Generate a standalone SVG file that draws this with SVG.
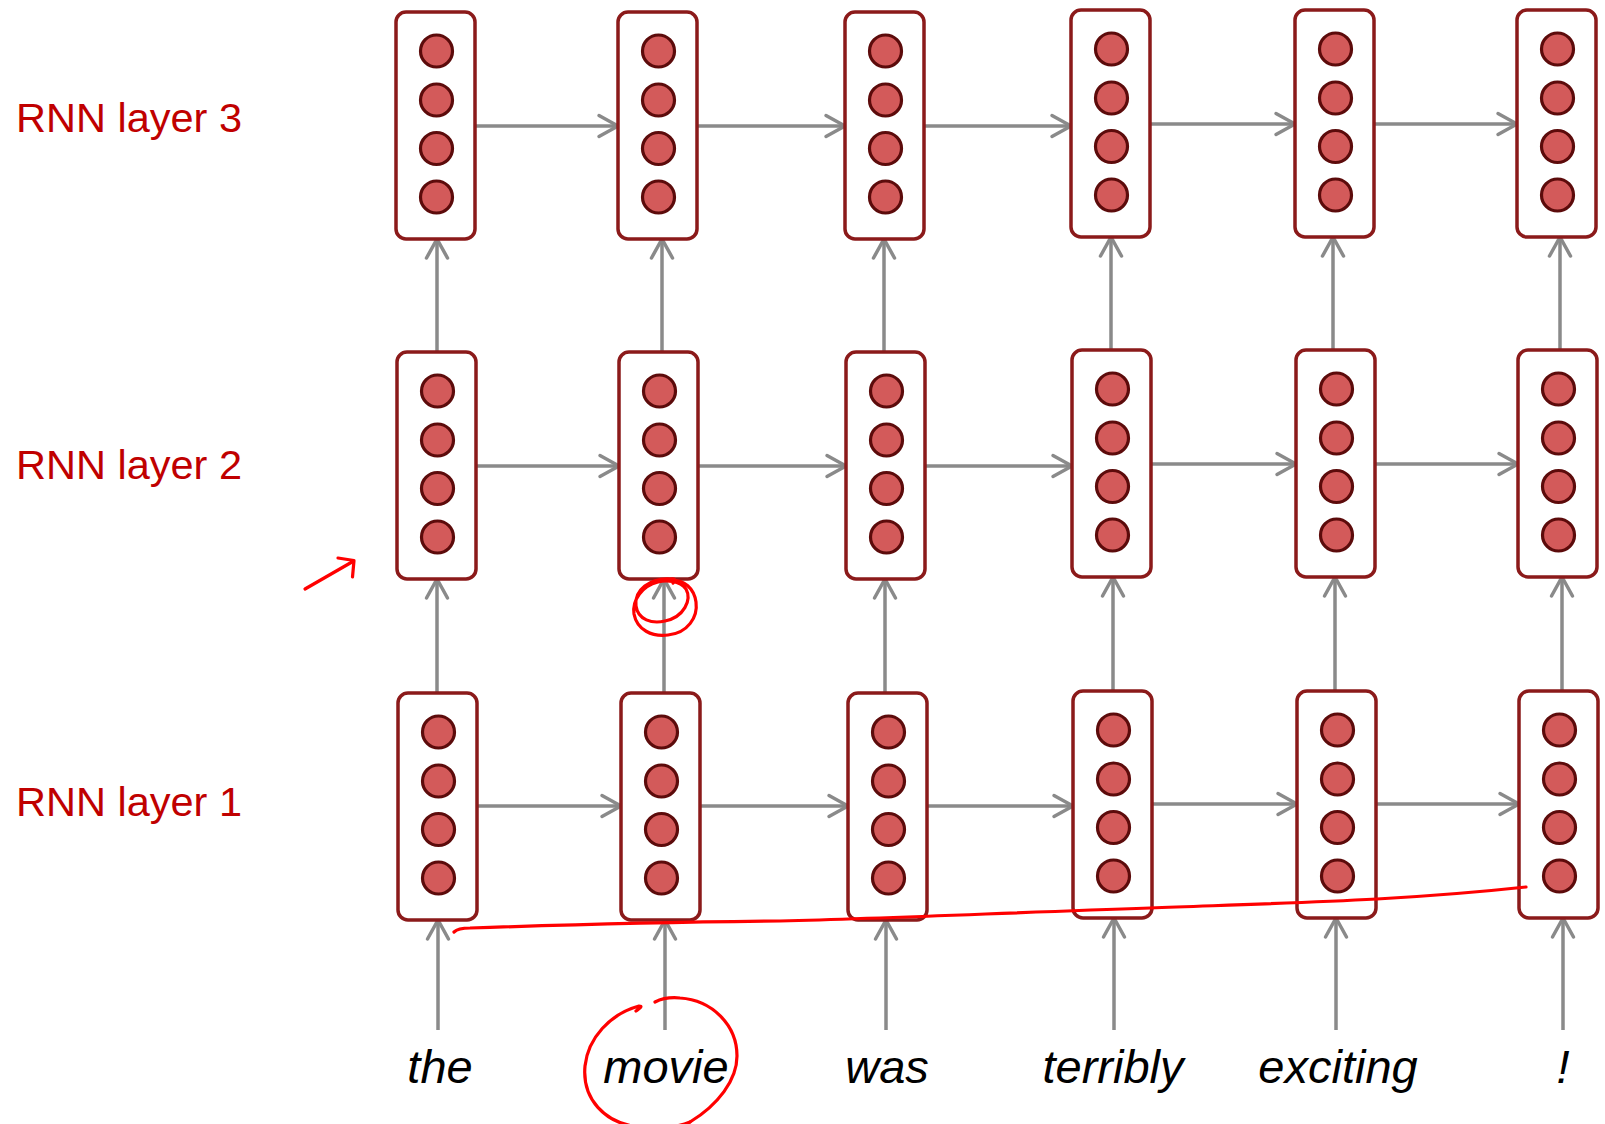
<svg xmlns="http://www.w3.org/2000/svg" width="1605" height="1124" viewBox="0 0 1605 1124">
  <style>
    .box { fill: #ffffff; stroke: #8b1a1a; stroke-width: 3.5; }
    .unit { fill: #d35a5a; stroke: #5c0b0b; stroke-width: 3.2; }
    .conn { stroke: #8a8a8a; stroke-width: 3.5; fill: none; marker-end: url(#head); }
    .layer { font-family: "Liberation Sans", Arial, sans-serif; font-size: 41.5px; fill: #c00000; }
    .word { font-family: "Liberation Sans", Arial, sans-serif; font-size: 47px; font-style: italic; fill: #000000; text-anchor: middle; }
    .ink { fill: none; stroke: #ff0000; stroke-width: 3.2; stroke-linecap: round; stroke-linejoin: round; }
  </style>
  <defs>
    <marker id="head" markerUnits="userSpaceOnUse" markerWidth="30" markerHeight="30" viewBox="-24 -15 28 30" refX="0" refY="0" orient="auto">
      <path d="M -19 -10.5 L 0 0 L -19 10.5" fill="none" stroke="#8a8a8a" stroke-width="3.5" stroke-linecap="round" stroke-linejoin="round"/>
    </marker>
    <!-- one hidden-state vector: rounded frame with four units -->
    <g id="cell">
      <rect class="box" x="0" y="0" width="79" height="227" rx="10" ry="10"/>
      <circle class="unit" cx="40.5" cy="39" r="16"/>
      <circle class="unit" cx="40.5" cy="88" r="16"/>
      <circle class="unit" cx="40.5" cy="136.5" r="16"/>
      <circle class="unit" cx="40.5" cy="185" r="16"/>
    </g>
  </defs>

  <rect x="0" y="0" width="1605" height="1124" fill="#ffffff"/>

  <!-- layer labels -->
  <text class="layer" x="16" y="132">RNN layer 3</text>
  <text class="layer" x="16" y="479">RNN layer 2</text>
  <text class="layer" x="16" y="816">RNN layer 1</text>

  <!-- connectors -->
  <g id="connectors">
    <!-- recurrent links, layer 3 -->
    <line class="conn" x1="475" y1="126" x2="618" y2="126"/>
    <line class="conn" x1="697" y1="126" x2="845" y2="126"/>
    <line class="conn" x1="924" y1="126" x2="1071" y2="126"/>
    <line class="conn" x1="1150" y1="124" x2="1295" y2="124"/>
    <line class="conn" x1="1374" y1="124" x2="1517" y2="124"/>
    <!-- recurrent links, layer 2 -->
    <line class="conn" x1="476" y1="466" x2="619" y2="466"/>
    <line class="conn" x1="698" y1="466" x2="846" y2="466"/>
    <line class="conn" x1="925" y1="466" x2="1072" y2="466"/>
    <line class="conn" x1="1151" y1="464" x2="1296" y2="464"/>
    <line class="conn" x1="1375" y1="464" x2="1518" y2="464"/>
    <!-- recurrent links, layer 1 -->
    <line class="conn" x1="477" y1="806" x2="621" y2="806"/>
    <line class="conn" x1="700" y1="806" x2="848" y2="806"/>
    <line class="conn" x1="927" y1="806" x2="1073" y2="806"/>
    <line class="conn" x1="1152" y1="804" x2="1297" y2="804"/>
    <line class="conn" x1="1376" y1="804" x2="1519" y2="804"/>
    <!-- layer 2 to layer 3 -->
    <line class="conn" x1="437" y1="352" x2="437" y2="239"/>
    <line class="conn" x1="662" y1="352" x2="662" y2="239"/>
    <line class="conn" x1="884" y1="352" x2="884" y2="239"/>
    <line class="conn" x1="1111" y1="350" x2="1111" y2="237"/>
    <line class="conn" x1="1333" y1="350" x2="1333" y2="237"/>
    <line class="conn" x1="1560" y1="350" x2="1560" y2="237"/>
    <!-- layer 1 to layer 2 -->
    <line class="conn" x1="437" y1="693" x2="437" y2="579"/>
    <line class="conn" x1="664" y1="693" x2="664" y2="579"/>
    <line class="conn" x1="885" y1="693" x2="885" y2="579"/>
    <line class="conn" x1="1113" y1="691" x2="1113" y2="577"/>
    <line class="conn" x1="1335" y1="691" x2="1335" y2="577"/>
    <line class="conn" x1="1562" y1="691" x2="1562" y2="577"/>
    <!-- inputs to layer 1 -->
    <line class="conn" x1="438" y1="1030" x2="438" y2="920"/>
    <line class="conn" x1="665" y1="1030" x2="665" y2="920"/>
    <line class="conn" x1="886" y1="1030" x2="886" y2="920"/>
    <line class="conn" x1="1114" y1="1030" x2="1114" y2="918"/>
    <line class="conn" x1="1336" y1="1030" x2="1336" y2="918"/>
    <line class="conn" x1="1563" y1="1030" x2="1563" y2="918"/>
  </g>

  <!-- layer 3 cells -->
  <g id="l3-t1"><use href="#cell" x="396" y="12"/></g>
  <g id="l3-t2"><use href="#cell" x="618" y="12"/></g>
  <g id="l3-t3"><use href="#cell" x="845" y="12"/></g>
  <g id="l3-t4"><use href="#cell" x="1071" y="10"/></g>
  <g id="l3-t5"><use href="#cell" x="1295" y="10"/></g>
  <g id="l3-t6"><use href="#cell" x="1517" y="10"/></g>
  <!-- layer 2 cells -->
  <g id="l2-t1"><use href="#cell" x="397" y="352"/></g>
  <g id="l2-t2"><use href="#cell" x="619" y="352"/></g>
  <g id="l2-t3"><use href="#cell" x="846" y="352"/></g>
  <g id="l2-t4"><use href="#cell" x="1072" y="350"/></g>
  <g id="l2-t5"><use href="#cell" x="1296" y="350"/></g>
  <g id="l2-t6"><use href="#cell" x="1518" y="350"/></g>
  <!-- layer 1 cells -->
  <g id="l1-t1"><use href="#cell" x="398" y="693"/></g>
  <g id="l1-t2"><use href="#cell" x="621" y="693"/></g>
  <g id="l1-t3"><use href="#cell" x="848" y="693"/></g>
  <g id="l1-t4"><use href="#cell" x="1073" y="691"/></g>
  <g id="l1-t5"><use href="#cell" x="1297" y="691"/></g>
  <g id="l1-t6"><use href="#cell" x="1519" y="691"/></g>

  <!-- input words -->
  <g id="words">
    <text class="word" x="440" y="1083">the</text>
    <text class="word" x="666" y="1083">movie</text>
    <text class="word" x="887" y="1083">was</text>
    <text class="word" x="1113" y="1083">terribly</text>
    <text class="word" x="1338" y="1083">exciting</text>
    <text class="word" x="1563" y="1083">!</text>
  </g>

  <!-- hand-drawn red annotations -->
  <g id="annotations">
    <path class="ink" d="M 305 589 L 352 562"/>
    <path class="ink" d="M 338 558 L 354 560.5 L 352.5 577"/>
    <path class="ink" d="M 673 583 C 676 580 675 578 670 579 C 650 578 634 590 636 606 C 638 620 652 624 665 621 C 684 617 692 600 686 589 C 680 580 665 580 658 582 C 642 586 632 600 634 614 C 637 630 652 637 668 635 C 688 633 698 617 696 602 C 694 588 684 580 672 580"/>
    <path class="ink" d="M 636 1011 C 640 1008 643 1006 639 1006 C 610 1014 588 1038 585 1066 C 582 1098 604 1124 640 1127 M 690 1122 C 718 1105 737 1080 737 1056 C 737 1025 712 1000 680 998 C 670 997 661 999 655 1002"/>
    <path class="ink" d="M 690 1122 C 676 1128 660 1128 640 1127"/>
    <path class="ink" d="M 454 932 C 457 929 462 928 470 928 C 560 925 680 922 780 921 C 900 918 1000 913 1150 908 C 1230 905 1300 903 1377 899 C 1430 896 1480 892 1526 887"/>
  </g>
</svg>
